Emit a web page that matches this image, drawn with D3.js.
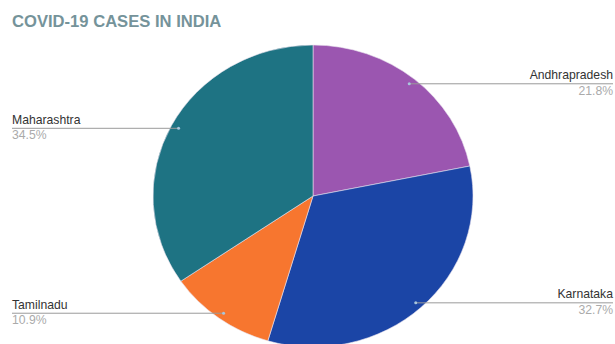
<!DOCTYPE html>
<html>
<head>
<meta charset="utf-8">
<script src="https://cdn.jsdelivr.net/npm/d3@7"></script>
<style>
  body { margin: 0; background: #fff; }
  svg { display: block; font-family: "Liberation Sans", Arial, sans-serif; }
</style>
</head>
<body>
<script>
// data
const states = ["Andhrapradesh", "Karnataka", "Tamilnadu", "Maharashtra"];
const shares = [21.8, 32.7, 10.9, 34.5];
const colors = ["#9b56b0", "#1b45a6", "#f7762f", "#1e7383"];
const labelSide = ["right", "right", "left", "left"];

const width = 615, height = 344;
const cx = 313, cy = 196;
const rx = 160, ry = 151; // the picture is slightly squashed

const svg = d3.select("body").append("svg")
    .attr("width", width)
    .attr("height", height);

svg.append("text")
    .attr("x", 12)
    .attr("y", 27)
    .attr("fill", "#75939a")
    .style("font-size", "16.6px")
    .style("font-weight", "bold")
    .text("COVID-19 CASES IN INDIA");

const data = states.map((s, i) => ({ name: s, value: shares[i], color: colors[i], side: labelSide[i] }));

const pie = d3.pie().sort(null).value(d => d.value);
const arcs = pie(data);

const arc = d3.arc().innerRadius(0).outerRadius(rx);

const g = svg.append("g")
    .attr("transform", `translate(${cx},${cy}) scale(1,${ry / rx})`);

g.selectAll("path")
    .data(arcs)
    .join("path")
    .attr("d", arc)
    .attr("fill", d => d.data.color)
    .attr("stroke", "#e9e2ee")
    .attr("stroke-width", 0.6);

// label anchors near the rim
function anchor(d) {
    const a = (d.startAngle + d.endAngle) / 2;
    return [cx + Math.sin(a) * rx * 0.95, cy - Math.cos(a) * ry * 0.96];
}

const labels = svg.append("g");
arcs.forEach(d => {
    const [px, py] = anchor(d);
    const left = d.data.side === "left";
    const x2 = left ? 12 : 613;
    labels.append("line")
        .attr("x1", px).attr("y1", py)
        .attr("x2", x2).attr("y2", py)
        .attr("stroke", "#9a9a9a")
        .attr("stroke-width", 1);
    labels.append("circle")
        .attr("cx", px).attr("cy", py).attr("r", 1.5)
        .attr("fill", "#a9c6dc");
    labels.append("text")
        .attr("x", x2)
        .attr("y", py - 4.5)
        .attr("text-anchor", left ? "start" : "end")
        .attr("fill", "#333")
        .style("font-size", "12.2px")
        .text(d.data.name);
    labels.append("text")
        .attr("x", x2)
        .attr("y", py + 11)
        .attr("text-anchor", left ? "start" : "end")
        .attr("fill", "#aaa")
        .style("font-size", "12.2px")
        .text(d.data.value.toFixed(1) + "%");
});
</script>
</body>
</html>
